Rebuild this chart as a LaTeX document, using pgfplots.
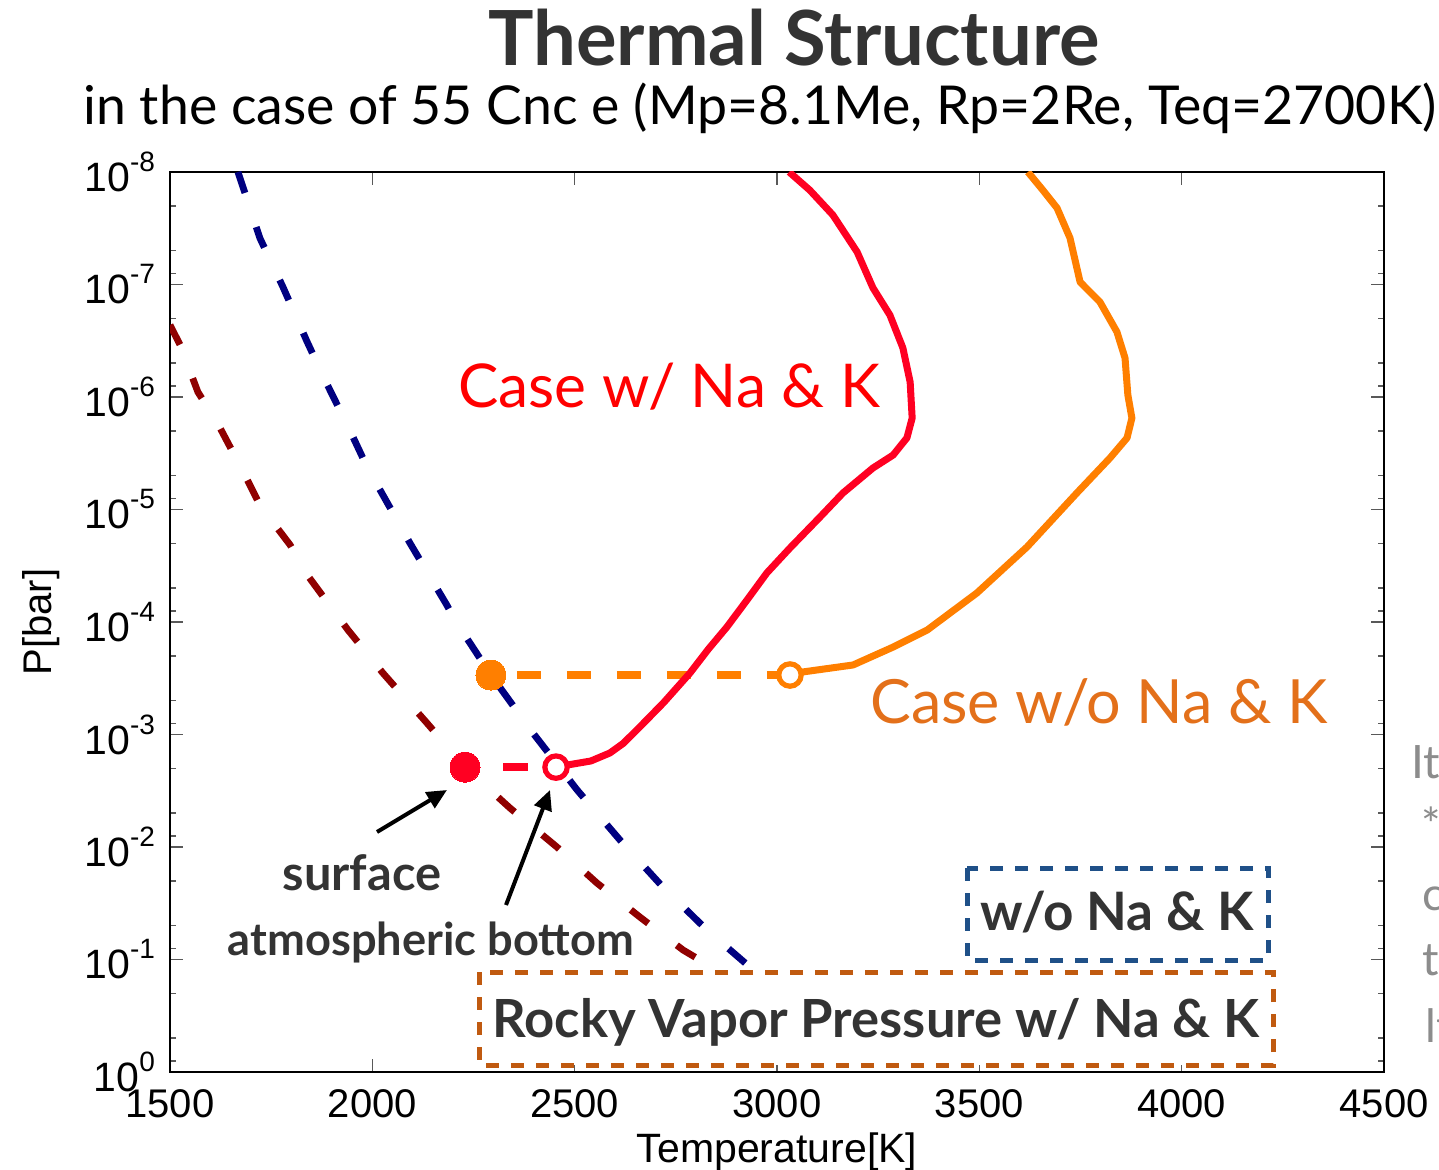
\documentclass[border=0pt]{standalone}
\usepackage{pgfplots}
\pgfplotsset{compat=1.18}
\usepackage{fontspec}
\setmainfont{Lato}
\newfontfamily\arial{Liberation Sans}
\usetikzlibrary{arrows.meta}

\definecolor{curvered}{HTML}{FF0022}
\definecolor{curveorange}{HTML}{FF7F00}
\definecolor{labelred}{HTML}{FF0000}
\definecolor{labelorange}{HTML}{E3701A}
\definecolor{vapnavy}{HTML}{000080}
\definecolor{vapdark}{HTML}{900000}
\definecolor{boxblue}{HTML}{1F5088}
\definecolor{boxbrown}{HTML}{C05A10}
\definecolor{textdark}{HTML}{333333}
\definecolor{sidegray}{HTML}{8C8C8C}

\newcommand{\tenp}[1]{10\raisebox{10pt}{\fontsize{14}{14}\selectfont #1}}

\begin{document}
\begin{tikzpicture}
\useasboundingbox (0,0) rectangle (719.5pt,-585pt);

\begin{axis}[
  at={(85pt,-86pt)}, anchor=north west,
  width=607pt, height=450pt, scale only axis,
  xmin=1500, xmax=4500,
  ymode=log, ymin=1e-8, ymax=1, y dir=reverse,
  xtick={1500,2000,2500,3000,3500,4000,4500},
  xticklabels={1500,2000,2500,3000,3500,4000,4500},
  ytick={1e-8,1e-7,1e-6,1e-5,1e-4,1e-3,1e-2,1e-1,1},
  yticklabels={\tenp{-8},\tenp{-7},\tenp{-6},\tenp{-5},\tenp{-4},\tenp{-3},\tenp{-2},\tenp{-1},\tenp{0}},
  minor ytick={2e-8,5e-8,8e-8,2e-7,5e-7,8e-7,2e-6,5e-6,8e-6,2e-5,5e-5,8e-5,
               2e-4,5e-4,8e-4,2e-3,5e-3,8e-3,2e-2,5e-2,8e-2,2e-1,5e-1,8e-1},
  minor xtick={},
  major tick length=6.5pt, minor tick length=3pt,
  tick style={black!65, line width=0.7pt},
  axis line style={line width=1.4pt},
  xticklabel style={font=\arial\fontsize{20}{20}\selectfont, yshift=-5pt},
  yticklabel style={font=\arial\fontsize{20.5}{20.5}\selectfont, xshift=-4pt},
  clip=true,
]

% vapour pressure of the rock without Na and K
\addplot[vapnavy, line width=3.4pt, dash pattern=on 11pt off 18pt] coordinates {
  (1668,1e-8) (1722,3.86e-8) (1779,1.05e-7) (1839,3.24e-7) (1883,7.06e-7)
  (1950,2.18e-6) (1987,4.19e-6) (2061,1.24e-5) (2093,1.99e-5) (2184,7.06e-5)
  (2204,9.59e-5) (2293,2.96e-4) (2397,9.71e-4) (2506,3.11e-3) (2612,8.67e-3)
  (2718,2.27e-2) (2827,5.47e-2) (2933,0.1167) (2951,0.129)
};

% vapour pressure of the rock with Na and K
\addplot[vapdark, line width=3.4pt, dash pattern=on 11pt off 18pt] coordinates {
  (1500,2.29e-7) (1525,3.45e-7) (1569,9.04e-7) (1616,1.67e-6) (1685,4.93e-6)
  (1722,9.12e-6) (1797,2.07e-5) (1834,3.60e-5) (1903,7.82e-5) (1940,1.18e-4)
  (2026,2.84e-4) (2135,7.91e-4) (2229,1.95e-3) (2340,4.50e-3) (2456,1e-2)
  (2555,2.09e-2) (2661,4.19e-2) (2768,8.24e-2) (2859,0.129)
};

% surface to atmospheric bottom
\addplot[curveorange, line width=4pt, dash pattern=on 12pt off 13pt, dash phase=12pt] coordinates {
  (2293,2.96e-4) (3032,2.96e-4)
};
\addplot[curvered, line width=4pt, dash pattern=on 12.5pt off 19pt, dash phase=12.5pt] coordinates {
  (2229,1.95e-3) (2454,1.95e-3)
};

% temperature profile with Na and K
\addplot[curvered, line width=3.5pt, line join=round] coordinates {
  (3030,1e-8) (3081,1.45e-8) (3138,2.41e-8) (3198,5.14e-8) (3237,1.07e-7)
  (3279,1.87e-7) (3311,3.66e-7) (3329,7.36e-7) (3334,1.54e-6) (3321,2.31e-6)
  (3287,3.28e-6) (3237,4.28e-6) (3163,7.13e-6) (3106,1.17e-5) (3032,2.20e-5)
  (2975,3.66e-5) (2926,6.37e-5) (2876,1.11e-4) (2830,1.75e-4) (2785,2.84e-4)
  (2720,5.20e-4) (2661,8.57e-4) (2620,1.20e-3) (2587,1.46e-3) (2540,1.72e-3)
  (2481,1.87e-3) (2454,1.95e-3)
};

% temperature profile without Na and K
\addplot[curveorange, line width=3.5pt, line join=round] coordinates {
  (3620,1e-8) (3657,1.45e-8) (3692,2.09e-8) (3724,3.86e-8) (3749,9.51e-8)
  (3798,1.43e-7) (3840,2.64e-7) (3860,4.50e-7) (3867,9.59e-7) (3877,1.54e-6)
  (3865,2.31e-6) (3823,3.48e-6) (3741,7.13e-6) (3618,2.15e-5) (3494,5.52e-5)
  (3371,1.18e-4) (3287,1.67e-4) (3188,2.41e-4) (3064,2.78e-4) (3032,2.96e-4)
};

% surface points
\addplot[only marks, mark=*, mark size=7.5pt, mark options={fill=curveorange, draw=curveorange, line width=0pt}] coordinates {(2293,2.96e-4)};
\addplot[only marks, mark=*, mark size=7.5pt, mark options={fill=curvered, draw=curvered, line width=0pt}] coordinates {(2229,1.95e-3)};
% atmospheric bottom points
\addplot[only marks, mark=*, mark size=5.6pt, mark options={fill=white, draw=curveorange, line width=2.6pt}] coordinates {(3032,2.96e-4)};
\addplot[only marks, mark=*, mark size=5.6pt, mark options={fill=white, draw=curvered, line width=2.6pt}] coordinates {(2454,1.95e-3)};
\end{axis}

\begin{scope}[x=0.5pt, y=-0.5pt]
  % titles
  \node[anchor=base, text=textdark, font=\fontsize{38}{38}\selectfont\bfseries] at (794,66) {Thermal Structure};
  \node[anchor=base west, inner sep=0pt, text=black, font=\fontsize{26.8}{26.8}\selectfont] at (83,125) {in the case of 55 Cnc e (Mp=8.1Me, Rp=2Re, Teq=2700K)};
  % axis labels
  \node[anchor=base, font=\arial\fontsize{20.5}{20.5}\selectfont] at (777,1162) {Temperature[K]};
  \node[anchor=base, rotate=90, font=\arial\fontsize{20}{20}\selectfont] at (51,622) {P[bar]};
  % curve labels
  \node[anchor=base west, inner sep=0pt, text=labelred, font=\fontsize{30.2}{30.2}\selectfont] at (458,408) {Case w/ Na \& K};
  \node[anchor=base west, inner sep=0pt, text=labelorange, font=\fontsize{30.5}{30.5}\selectfont] at (870,723) {Case w/o Na \& K};
  % annotations
  \node[anchor=base, text=textdark, font=\fontsize{24.4}{24.4}\selectfont\bfseries] at (362,890) {surface};
  \node[anchor=base, text=textdark, font=\fontsize{22.6}{22.6}\selectfont\bfseries] at (431,955) {atmospheric bottom};
  \draw[line width=2pt, -{Triangle[length=10pt,width=9pt]}] (377,832) -- (447,790);
  \draw[line width=2pt, -{Triangle[length=10pt,width=9pt]}] (506,905) -- (550,790);
  % boxed keys
  \draw[boxblue, line width=2.5pt, dash pattern=on 6.5pt off 6pt, fill=white] (967,868) rectangle (1268,960);
  \node[anchor=base, text=textdark, font=\fontsize{26.5}{26.5}\selectfont\bfseries] at (1117,930) {w/o Na \& K};
  \draw[boxbrown, line width=2.5pt, dash pattern=on 6.5pt off 6pt, fill=white] (479,972) rectangle (1273,1065);
  \node[anchor=base, text=textdark, font=\fontsize{26.3}{26.3}\selectfont\bfseries] at (876,1037) {Rocky Vapor Pressure w/ Na \& K};
  % neighbouring text running off the edge
  \begin{scope}[every node/.style={anchor=base west, text=sidegray, font=\fontsize{23}{23}\selectfont, inner sep=0pt}]
    \node at (1411,778) {It};
    \node at (1421,841) {*};
    \node at (1422,910) {c};
    \node at (1422,975) {t};
    \node at (1425,1042) {lt};
  \end{scope}
\end{scope}
\end{tikzpicture}
\end{document}
